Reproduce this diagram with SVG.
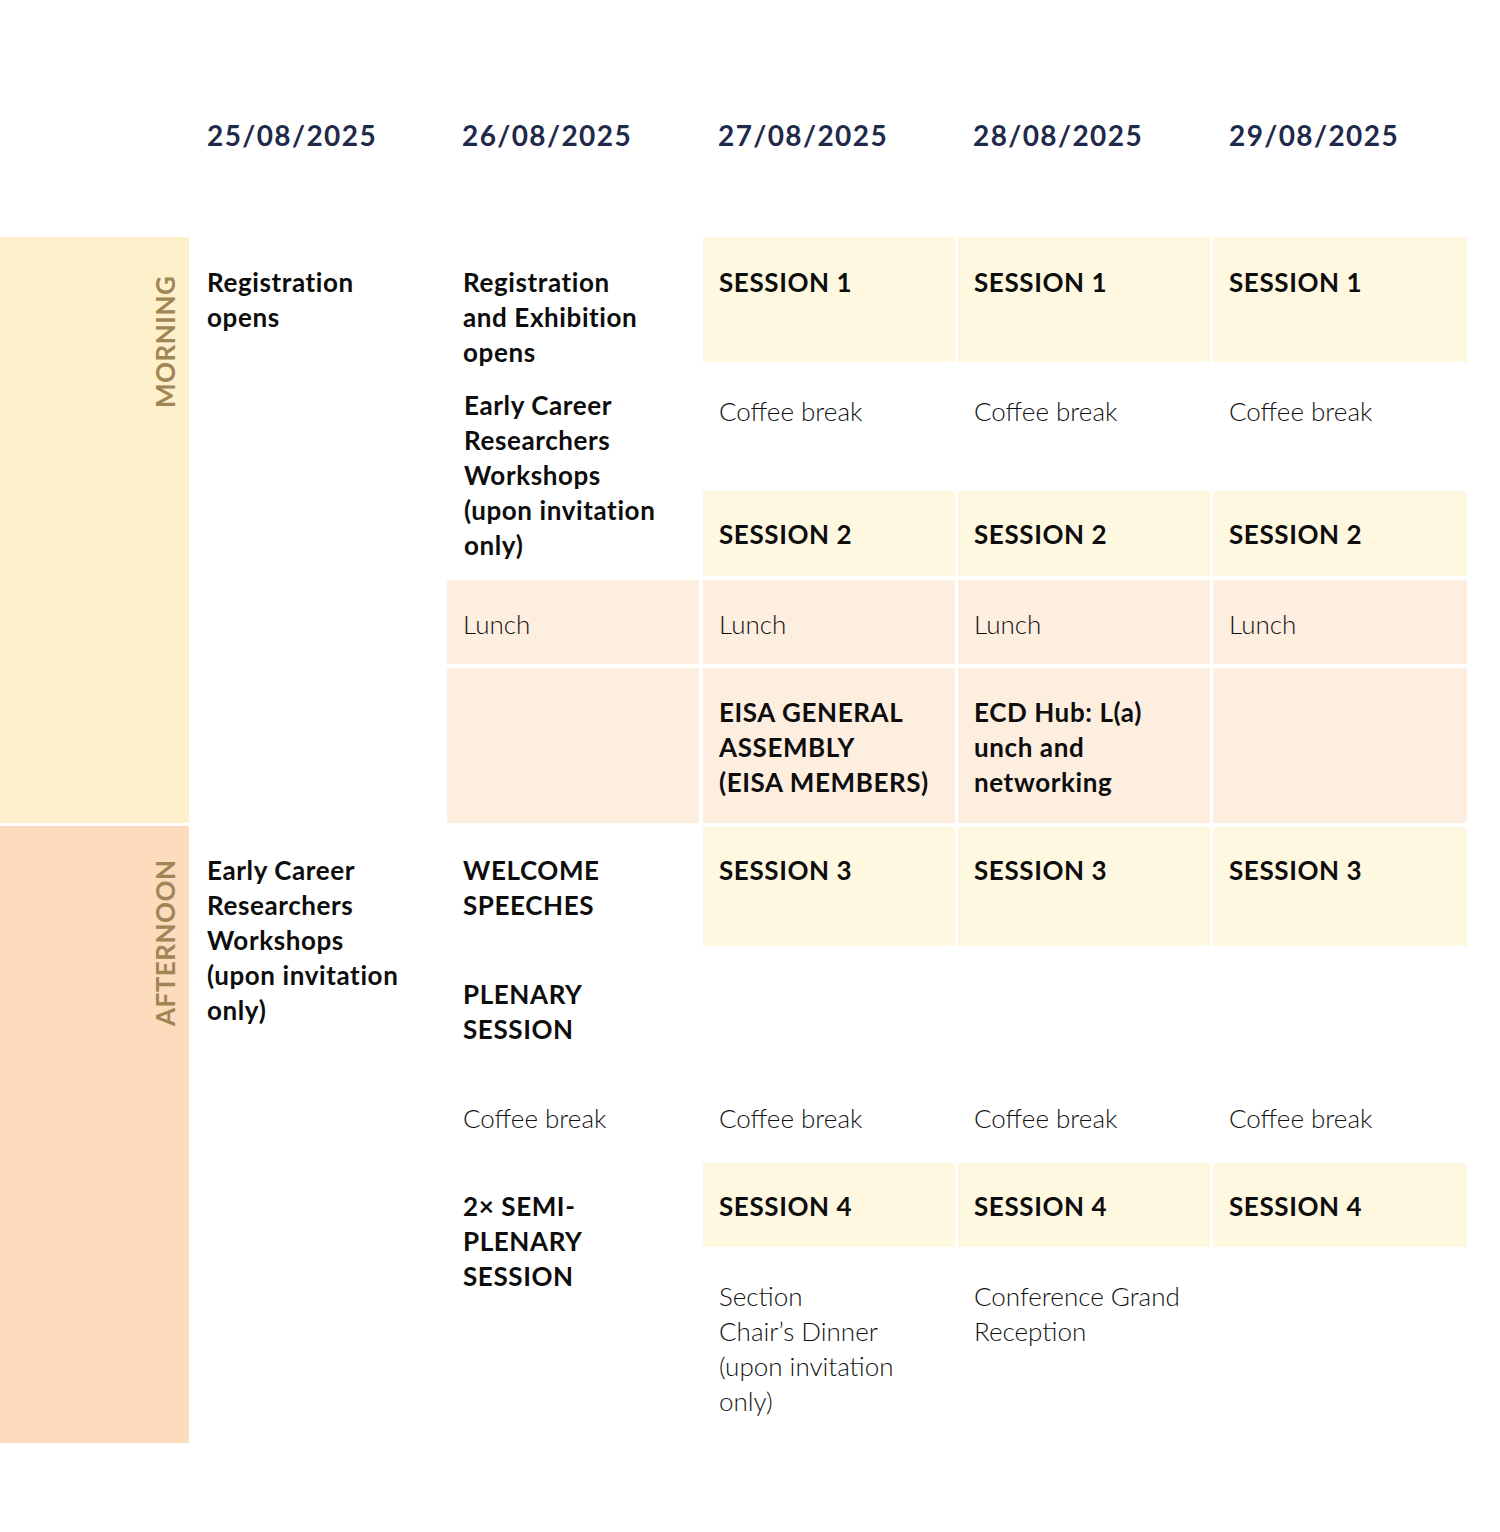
<svg xmlns="http://www.w3.org/2000/svg" width="1500" height="1532" viewBox="0 0 1500 1532">
<style>
.date{font-family:Lato,"Liberation Sans",sans-serif;font-weight:700;font-size:28px;fill:#1F2A4B;letter-spacing:1.4px}
.b{font-family:Lato,"Liberation Sans",sans-serif;font-weight:700;font-size:26px;fill:#0d0d0d;letter-spacing:0.6px}
.l{font-family:Lato,"Liberation Sans",sans-serif;font-weight:300;font-size:26px;fill:#111}
.band{font-family:Lato,"Liberation Sans",sans-serif;font-weight:700;font-size:26px;fill:#A08555;letter-spacing:0.5px}
.ses{fill:#FFF8E0}
.lun{fill:#FDEEE0}
</style>
<rect width="1500" height="1532" fill="#fff"/>
<g id="dates">
<text class="date" x="207" y="146">25/08/2025</text>
<text class="date" x="462" y="146">26/08/2025</text>
<text class="date" x="718" y="146">27/08/2025</text>
<text class="date" x="973" y="146">28/08/2025</text>
<text class="date" x="1229" y="146">29/08/2025</text>
</g>
<g id="morning">
<rect x="0" y="237" width="189" height="586" fill="#FEF0CA"/>
<text class="band" transform="translate(175,408) rotate(-90)">MORNING</text>
</g>
<g id="afternoon">
<rect x="0" y="826" width="189" height="617" fill="#FDDBBD"/>
<text class="band" transform="translate(175,1026) rotate(-90)">AFTERNOON</text>
</g>
<g id="d25">
<text class="b" x="207" y="292">Registration</text>
<text class="b" x="207" y="327">opens</text>
<text class="b" x="207" y="880">Early Career</text>
<text class="b" x="207" y="915">Researchers</text>
<text class="b" x="207" y="950">Workshops</text>
<text class="b" x="207" y="985">(upon invitation</text>
<text class="b" x="207" y="1020">only)</text>
</g>
<g id="d26">
<text class="b" x="463" y="292">Registration</text>
<text class="b" x="463" y="327">and Exhibition</text>
<text class="b" x="463" y="362">opens</text>
<text class="b" x="464" y="415">Early Career</text>
<text class="b" x="464" y="450">Researchers</text>
<text class="b" x="464" y="485">Workshops</text>
<text class="b" x="464" y="520">(upon invitation</text>
<text class="b" x="464" y="555">only)</text>
<rect class="lun" x="447" y="580" width="252" height="84"/>
<text class="l" x="463" y="634">Lunch</text>
<rect class="lun" x="447" y="668" width="252" height="155"/>
<text class="b" x="463" y="880">WELCOME</text>
<text class="b" x="463" y="915">SPEECHES</text>
<text class="b" x="463" y="1004">PLENARY</text>
<text class="b" x="463" y="1039">SESSION</text>
<text class="l" x="463" y="1128">Coffee break</text>
<text class="b" x="463" y="1216">2× SEMI-</text>
<text class="b" x="463" y="1251">PLENARY</text>
<text class="b" x="463" y="1286">SESSION</text>
</g>
<g id="d27">
<rect class="ses" x="703" y="237" width="252" height="125"/>
<text class="b" x="719" y="292">SESSION 1</text>
<text class="l" x="719" y="421">Coffee break</text>
<rect class="ses" x="703" y="491" width="252" height="85"/>
<text class="b" x="719" y="544">SESSION 2</text>
<rect class="lun" x="703" y="580" width="252" height="84"/>
<text class="l" x="719" y="634">Lunch</text>
<rect class="lun" x="703" y="668" width="252" height="155"/>
<text class="b" x="719" y="722">EISA GENERAL</text>
<text class="b" x="719" y="757">ASSEMBLY</text>
<text class="b" x="719" y="792">(EISA MEMBERS)</text>
<rect class="ses" x="703" y="827" width="252" height="119"/>
<text class="b" x="719" y="880">SESSION 3</text>
<text class="l" x="719" y="1128">Coffee break</text>
<rect class="ses" x="703" y="1163" width="252" height="84"/>
<text class="b" x="719" y="1216">SESSION 4</text>
<text class="l" x="719" y="1306">Section</text>
<text class="l" x="719" y="1341">Chair’s Dinner</text>
<text class="l" x="719" y="1376">(upon invitation</text>
<text class="l" x="719" y="1411">only)</text>
</g>
<g id="d28">
<rect class="ses" x="958" y="237" width="252" height="125"/>
<text class="b" x="974" y="292">SESSION 1</text>
<text class="l" x="974" y="421">Coffee break</text>
<rect class="ses" x="958" y="491" width="252" height="85"/>
<text class="b" x="974" y="544">SESSION 2</text>
<rect class="lun" x="958" y="580" width="252" height="84"/>
<text class="l" x="974" y="634">Lunch</text>
<rect class="lun" x="958" y="668" width="252" height="155"/>
<text class="b" x="974" y="722">ECD Hub: L(a)</text>
<text class="b" x="974" y="757">unch and</text>
<text class="b" x="974" y="792">networking</text>
<rect class="ses" x="958" y="827" width="252" height="119"/>
<text class="b" x="974" y="880">SESSION 3</text>
<text class="l" x="974" y="1128">Coffee break</text>
<rect class="ses" x="958" y="1163" width="252" height="84"/>
<text class="b" x="974" y="1216">SESSION 4</text>
<text class="l" x="974" y="1306">Conference Grand</text>
<text class="l" x="974" y="1341">Reception</text>
</g>
<g id="d29">
<rect class="ses" x="1213" y="237" width="254" height="125"/>
<text class="b" x="1229" y="292">SESSION 1</text>
<text class="l" x="1229" y="421">Coffee break</text>
<rect class="ses" x="1213" y="491" width="254" height="85"/>
<text class="b" x="1229" y="544">SESSION 2</text>
<rect class="lun" x="1213" y="580" width="254" height="84"/>
<text class="l" x="1229" y="634">Lunch</text>
<rect class="lun" x="1213" y="668" width="254" height="155"/>
<rect class="ses" x="1213" y="827" width="254" height="119"/>
<text class="b" x="1229" y="880">SESSION 3</text>
<text class="l" x="1229" y="1128">Coffee break</text>
<rect class="ses" x="1213" y="1163" width="254" height="84"/>
<text class="b" x="1229" y="1216">SESSION 4</text>
</g>
<g id="connectors"/>
</svg>
